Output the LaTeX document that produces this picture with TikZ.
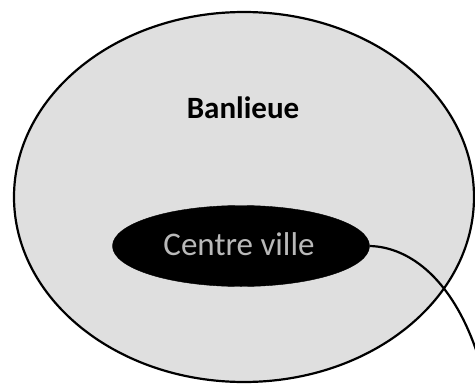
\documentclass[tikz,border=0pt]{standalone}
\usepackage{fontspec}
\setmainfont{Carlito}
\usetikzlibrary{shapes.geometric}
\begin{document}
\begin{tikzpicture}[x=1pt,y=-1pt,
  zone/.style={draw=black,line width=2.2pt,fill=gray!25},
  core/.style={fill=black,draw=black},
  link/.style={draw=black,line width=2.2pt}]
\useasboundingbox (0,0) rectangle (475,389);
\draw[zone] (244,197) ellipse [x radius=230,y radius=185];
\node[font=\bfseries\fontsize{31}{34}\selectfont] (ban) at (243,108) {Banlieue};
\node[core,ellipse,minimum width=257pt,minimum height=81pt,inner sep=0pt] (cv) at (241,246) {};
\node[text=gray!55,font=\fontsize{33}{36}\selectfont] (cvt) at (239,244) {Centre ville};
\coordinate (out) at (480,362);
\draw[link] (cv.east) .. controls (410,247) and (455,280) .. (out);
\end{tikzpicture}
\end{document}
